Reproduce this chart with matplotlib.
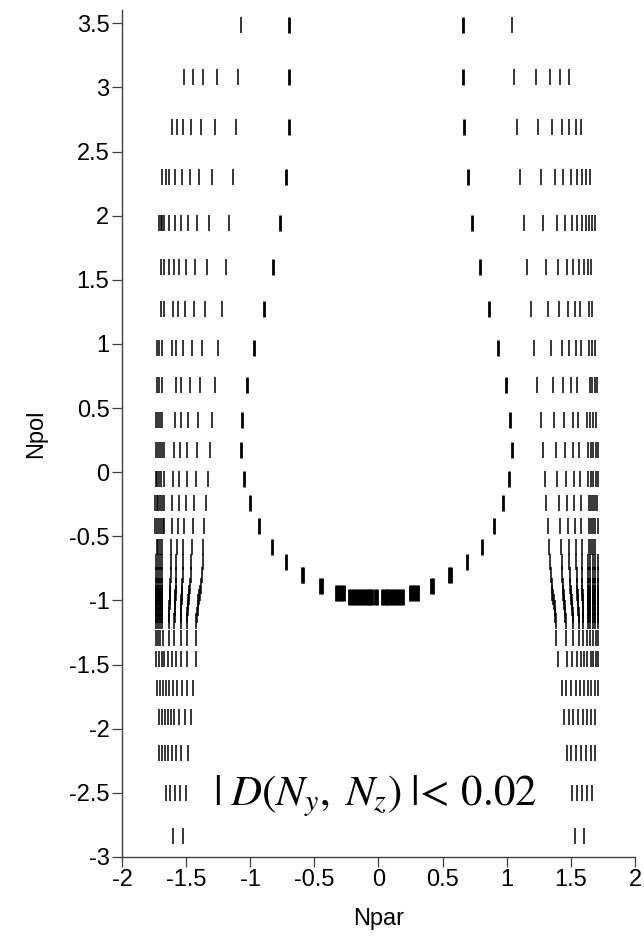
import matplotlib
matplotlib.use('Agg')
import matplotlib.pyplot as plt

# rows of the grid outside the dense band (Npol values)
npol_rows = [3.49, 3.08, 2.69, 2.30, 1.945, 1.60, 1.27, 0.97, 0.68, 0.41, 0.17,
             -0.05, -0.24, -0.42, -0.58,
             -1.29, -1.46, -1.68, -1.91, -2.19, -2.50, -2.84]

# outer branches, left side (Npar < 0)
outer_left = [
    [-1.072],
    [-1.514, -1.449, -1.371, -1.262, -1.093],
    [-1.613, -1.571, -1.522, -1.462, -1.384, -1.277, -1.109],
    [-1.686, -1.659, -1.631, -1.587, -1.532, -1.472, -1.400, -1.296, -1.135],
    [-1.711, -1.698, -1.686, -1.670, -1.631, -1.589, -1.542, -1.488, -1.413, -1.319, -1.163],
    [-1.694, -1.670, -1.631, -1.597, -1.553, -1.499, -1.428, -1.335, -1.189],
    [-1.698, -1.672, -1.604, -1.563, -1.508, -1.441, -1.355, -1.218],
    [-1.729, -1.712, -1.688, -1.612, -1.579, -1.522, -1.456, -1.376, -1.249],
    [-1.729, -1.712, -1.688, -1.581, -1.540, -1.470, -1.392, -1.273],
    [-1.735, -1.719, -1.704, -1.688, -1.587, -1.540, -1.483, -1.405, -1.296],
    [-1.737, -1.722, -1.706, -1.690, -1.672, -1.594, -1.548, -1.491, -1.413, -1.314],
    [-1.737, -1.725, -1.709, -1.694, -1.675, -1.600, -1.553, -1.495, -1.425, -1.327],
    [-1.743, -1.729, -1.717, -1.704, -1.686, -1.670, -1.608, -1.558, -1.501, -1.439, -1.343],
    [-1.743, -1.729, -1.714, -1.698, -1.682, -1.670, -1.608, -1.566, -1.514, -1.449, -1.361],
    [-1.729, -1.717, -1.704, -1.686, -1.616, -1.574, -1.522, -1.456, -1.366],
    [-1.737, -1.719, -1.701, -1.678, -1.634, -1.592, -1.542, -1.495, -1.423],
    [-1.734, -1.713, -1.691, -1.669, -1.643, -1.613, -1.578, -1.537, -1.491, -1.424],
    [-1.724, -1.702, -1.680, -1.656, -1.632, -1.605, -1.573, -1.534, -1.491, -1.449],
    [-1.708, -1.686, -1.664, -1.643, -1.619, -1.591, -1.556, -1.510, -1.462],
    [-1.708, -1.686, -1.664, -1.643, -1.613, -1.580, -1.542, -1.486],
    [-1.657, -1.622, -1.586, -1.546, -1.503],
    [-1.599, -1.528],
]

# outer branches, right side (Npar > 0)
outer_right = [
    [1.043],
    [1.057, 1.228, 1.337, 1.415, 1.483],
    [1.080, 1.244, 1.353, 1.431, 1.488, 1.540, 1.581],
    [1.103, 1.265, 1.374, 1.441, 1.499, 1.546, 1.585, 1.618, 1.649],
    [1.134, 1.285, 1.390, 1.454, 1.506, 1.550, 1.589, 1.618, 1.644, 1.667, 1.688],
    [1.160, 1.306, 1.397, 1.467, 1.519, 1.566, 1.602, 1.633, 1.659],
    [1.189, 1.324, 1.410, 1.480, 1.532, 1.573, 1.641, 1.667],
    [1.212, 1.342, 1.428, 1.488, 1.540, 1.581, 1.644, 1.665, 1.688],
    [1.238, 1.358, 1.436, 1.501, 1.546, 1.649, 1.667, 1.688, 1.701],
    [1.265, 1.368, 1.449, 1.514, 1.558, 1.628, 1.649, 1.670, 1.694],
    [1.280, 1.384, 1.457, 1.519, 1.566, 1.636, 1.655, 1.675, 1.696, 1.712],
    [1.296, 1.394, 1.462, 1.524, 1.571, 1.634, 1.655, 1.675, 1.696, 1.712],
    [1.306, 1.405, 1.467, 1.524, 1.577, 1.639, 1.655, 1.670, 1.688, 1.706],
    [1.322, 1.415, 1.478, 1.532, 1.579, 1.641, 1.657, 1.675, 1.690, 1.709],
    [1.332, 1.425, 1.483, 1.540, 1.584, 1.644, 1.659, 1.675, 1.690],
    [1.384, 1.462, 1.519, 1.563, 1.597, 1.628, 1.649, 1.675, 1.696, 1.712],
    [1.402, 1.467, 1.506, 1.546, 1.579, 1.605, 1.628, 1.655, 1.675, 1.696, 1.714],
    [1.430, 1.465, 1.504, 1.539, 1.574, 1.606, 1.633, 1.660, 1.687, 1.714],
    [1.446, 1.485, 1.520, 1.557, 1.592, 1.627, 1.659, 1.692],
    [1.468, 1.504, 1.541, 1.578, 1.617, 1.655, 1.692],
    [1.507, 1.545, 1.584, 1.623, 1.662],
    [1.532, 1.603],
]

# inner (U shaped) branch
inner = [
    [-0.696, 0.661], [-0.696, 0.656], [-0.698, 0.667], [-0.721, 0.696],
    [-0.766, 0.731], [-0.820, 0.791], [-0.893, 0.864], [-0.968, 0.934],
    [-1.025, 0.994], [-1.062, 1.025], [-1.072, 1.039], [-1.049, 1.020],
    [-1.002, 0.973], [-0.932, 0.901], [-0.833, 0.805],
    [], [], [], [], [], [], [],
]

# dense band around Npol = -1 (rows nearly touching)
dense_npol = [-0.70, -0.80, -0.89, -0.94, -0.97, -1.01, -1.06, -1.11, -1.16]
dense_left_lines = [
    [-1.370, -1.377, -1.384, -1.391, -1.398, -1.405, -1.411, -1.417, -1.422],
    [-1.459, -1.464, -1.469, -1.474, -1.479, -1.483, -1.487, -1.491, -1.494],
    [-1.524, -1.526, -1.529, -1.531, -1.534, -1.536, -1.538, -1.540, -1.542],
    [-1.576, -1.578, -1.580, -1.582, -1.584, -1.586, -1.588, -1.590, -1.592],
    [-1.618, -1.620, -1.622, -1.624, -1.626, -1.628, -1.630, -1.632, -1.634],
]
dense_right_lines = [
    [1.338, 1.344, 1.350, 1.356, 1.362, 1.368, 1.374, 1.379, 1.384],
    [1.429, 1.433, 1.437, 1.442, 1.446, 1.450, 1.454, 1.458, 1.462],
    [1.487, 1.491, 1.495, 1.499, 1.503, 1.507, 1.511, 1.515, 1.519],
    [1.543, 1.546, 1.548, 1.551, 1.553, 1.556, 1.558, 1.561, 1.563],
    [1.585, 1.587, 1.588, 1.590, 1.591, 1.593, 1.594, 1.596, 1.597],
]
dense_left_edge = [-1.737, -1.722, -1.706, -1.690]
dense_right_edge = [1.632, 1.650, 1.670, 1.690, 1.710]
dense_inner = [
    [-0.724, 0.688],
    [-0.597, -0.585, 0.551, 0.563],
    [-0.455, -0.441, 0.408, 0.422],
    [-0.335, -0.318, -0.301, -0.285, -0.272, 0.243, 0.258, 0.274, 0.290, 0.306],
    [-0.226, -0.211, -0.196, -0.181, -0.166, -0.151, -0.136, -0.121, -0.106,
     -0.091, -0.076, -0.063, -0.048, -0.027, -0.009, 0.025, 0.040, 0.055,
     0.070, 0.085, 0.100, 0.115, 0.130, 0.145, 0.160, 0.175, 0.190],
    [], [], [], [],
]

xticks = [-2, -1.5, -1, -0.5, 0, 0.5, 1, 1.5, 2]
yticks = [-3, -2.5, -2, -1.5, -1, -0.5, 0, 0.5, 1, 1.5, 2, 2.5, 3, 3.5]

plt.rcParams['font.family'] = ['Liberation Sans', 'DejaVu Sans']
plt.rcParams['mathtext.fontset'] = 'stix'

fig = plt.figure(figsize=(6.44, 9.38), dpi=100)
ax = fig.add_axes([0.1894, 0.0864, 0.7966, 0.903])

ms = 11.3
thin = dict(ls='none', marker='|', ms=ms, mew=1.1, color='k')
thick = dict(ls='none', marker='|', ms=ms, mew=2.0, color='k')

for y, xl, xr, xi in zip(npol_rows, outer_left, outer_right, inner):
    ax.plot(xl + xr, [y] * len(xl + xr), **thin)
    if xi:
        ax.plot(xi, [y] * len(xi), **thick)

for k, y in enumerate(dense_npol):
    xs = [line[k] for line in dense_left_lines] + [line[k] for line in dense_right_lines]
    xs = xs + dense_left_edge + dense_right_edge
    ax.plot(xs, [y] * len(xs), **thin)
    if dense_inner[k]:
        ax.plot(dense_inner[k], [y] * len(dense_inner[k]), **thick)

ax.text(-0.03, -2.595, r'$|\;D(N_y,\;N_z)\;|\!<\,0.02$', fontsize=31,
        ha='center', va='baseline')

ax.set_xlim(-2, 2)
ax.set_ylim(-3, 3.604)
ax.set_xticks(xticks)
ax.set_yticks(yticks)
ax.set_xticklabels(['%g' % t for t in xticks])
ax.set_yticklabels(['%g' % t for t in yticks])
ax.spines['top'].set_visible(False)
ax.spines['right'].set_visible(False)
for s in ['left', 'bottom']:
    ax.spines[s].set_color('#404040')
    ax.spines[s].set_linewidth(1.0)
ax.tick_params(direction='out', length=7, width=0.9, color='#404040',
               labelsize=17, pad=2)
ax.set_xlabel('Npar', fontsize=17, labelpad=12)
ax.set_ylabel('Npol', fontsize=17, labelpad=16)

fig.savefig('out.png', dpi=100)
